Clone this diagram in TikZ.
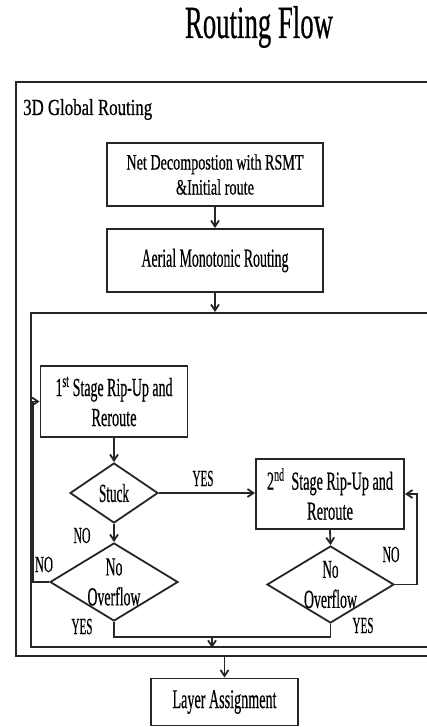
\documentclass[tikz,border=0pt]{standalone}
\usepackage{fontspec}
\setmainfont{Liberation Serif}[FakeBold=0.6]
\usepackage{graphicx}
\usetikzlibrary{arrows.meta,shapes.geometric}
\newcommand{\fw}[2]{\resizebox{#1pt}{\height}{#2}}
\begin{document}
\begin{tikzpicture}[x=1pt,y=-1pt,
  ln/.style={line width=1.8pt,draw=black!85},
  arr/.style={ln,-{Straight Barb[length=6pt,width=8pt]}},
  box/.style={ln,rectangle,inner sep=0pt,align=center},
  dia/.style={ln,diamond,inner sep=0pt},
  lbl/.style={inner sep=0pt,anchor=base,font=\fontsize{23}{26}\selectfont},
  bt/.style={font=\fontsize{26}{30}\selectfont},
]
\useasboundingbox (0,0) rectangle (427,727);
\fill[white] (0,0) rectangle (427,727);
% title
\node[inner sep=0pt,anchor=base,font=\fontsize{46}{50}\selectfont] (title) at (259,38) {\fw{148}{Routing Flow}};
% containers
\node[box,minimum width=424pt,minimum height=574pt] (outer) at (228,369) {};
\node[inner sep=0pt,anchor=base west,font=\fontsize{23}{26}\selectfont] (gr) at (23,115) {\fw{129}{3D Global Routing}};
\node[box,minimum width=409pt,minimum height=334pt] (inner) at (235.5,480) {};
% boxes
\node[box,minimum width=216pt,minimum height=63pt,font=\fontsize{22}{25}\selectfont] (b1) at (215,174.5)
  {\fw{177}{Net Decompostion with RSMT}\\\fw{78}{\&Initial route}};
\node[box,bt,minimum width=216pt,minimum height=63pt] (b2) at (215,260.5)
  {\fw{147}{Aerial Monotonic Routing}};
\node[box,bt,minimum width=147pt,minimum height=71pt] (b3) at (114,401.5)
  {\fw{117}{1\textsuperscript{st} Stage Rip-Up and}\\\fw{45}{Reroute}};
\node[box,bt,minimum width=148pt,minimum height=70pt] (b4) at (330,494)
  {\fw{126}{2\textsuperscript{nd}\ \ Stage Rip-Up and}\\\fw{46}{Reroute}};
\node[dia,minimum width=88pt,minimum height=60pt,label={[bt]center:\fw{30}{Stuck}}] (stuck) at (114,493) {};
\node[dia,minimum width=128pt,minimum height=78pt,label={[bt,align=center]center:{\fw{17}{No}\\\fw{53}{Overflow}}}] (ov1) at (114,582) {};
\node[dia,minimum width=127pt,minimum height=77pt,label={[bt,align=center]center:{\fw{16}{No}\\\fw{53}{Overflow}}}] (ov2) at (330.5,584.5) {};
\node[box,minimum width=147pt,minimum height=47pt,font=\fontsize{27}{30}\selectfont] (lay) at (224.5,702)
  {\fw{104}{Layer Assignment}};
% labels
\node[lbl] (yes1) at (203,486) {\fw{21}{YES}};
\node[lbl] (no1) at (82,543) {\fw{17}{NO}};
\node[lbl] (no2) at (44,572) {\fw{18}{NO}};
\node[lbl] (yes2) at (82,634) {\fw{21}{YES}};
\node[lbl] (no3) at (391,562) {\fw{17}{NO}};
\node[lbl] (yes3) at (363,633) {\fw{21}{YES}};
% connectors
\draw[arr] (b1.south) -- (b2.north);
\draw[arr] (b2.south) -- (b2.south |- inner.north);
\draw[arr] (b3.south) -- (stuck.north);
\draw[arr] (stuck.east) -- (stuck.east -| b4.west);
\draw[arr] (stuck.south) -- (ov1.north);
\draw[arr] (ov1.west) -- ++(-16,0) |- (b3.west);
\draw[arr] (b4.south) -- (ov2.north);
\draw[arr] (ov2.east) -- ++(22,0) |- (b4.east);
\coordinate (m) at (212,637);
\draw[ln] (ov1.south) -- (ov1.south |- m) -| (ov2.south);
\draw[arr] (m) -- (m |- inner.south);
\draw[arr] (lay.north |- outer.south) -- (lay.north);
\end{tikzpicture}
\end{document}
